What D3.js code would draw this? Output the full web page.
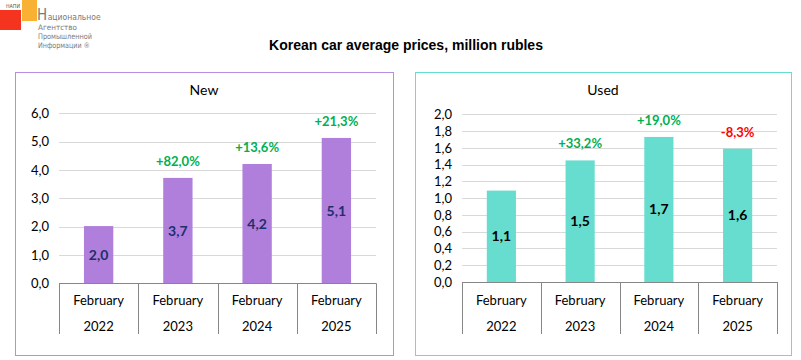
<!DOCTYPE html>
<html><head><meta charset="utf-8">
<script src="https://cdn.jsdelivr.net/npm/d3@7"></script>
<style>body{margin:0;background:#fff}svg{display:block}</style>
</head><body>
<svg id="c" width="801" height="360"></svg>
<script>
const categories = ["February", "February", "February", "February"];
const years = ["2022", "2023", "2024", "2025"];
const newValues = [2.02, 3.72, 4.21, 5.13];
const newLabels = ["2,0", "3,7", "4,2", "5,1"];
const newChange = ["", "+82,0%", "+13,6%", "+21,3%"];
const usedValues = [1.09, 1.45, 1.73, 1.59];
const usedLabels = ["1,1", "1,5", "1,7", "1,6"];
const usedChange = ["", "+33,2%", "+19,0%", "-8,3%"];
const newTicks = [0, 1, 2, 3, 4, 5, 6];
const usedTicks = [0, 0.2, 0.4, 0.6, 0.8, 1.0, 1.2, 1.4, 1.6, 1.8, 2.0];

const svg = d3.select("#c");
const FONT = "Lato, 'Open Sans', sans-serif";
const NARROW = "'Liberation Sans Narrow', 'DejaVu Sans Condensed', 'Liberation Sans', sans-serif";

// logo
const logo = svg.append("g");
logo.append("rect").attr("x",0).attr("y",10).attr("width",21).attr("height",20).attr("fill","#F5341F");
logo.append("rect").attr("x",22).attr("y",0).attr("width",15).attr("height",21).attr("fill","#F8B133");
logo.append("text").attr("x",6).attr("y",8).attr("font-family",NARROW)
  .attr("font-size",5.5).attr("fill","#555").attr("textLength",14).attr("lengthAdjust","spacingAndGlyphs").text("НАПИ");
const first = logo.append("text").attr("x",37).attr("y",20).attr("font-family",NARROW).attr("fill","#7a7a7a");
first.append("tspan").attr("font-size",15).text("Н");
first.append("tspan").attr("font-size",8.5).attr("dx",0.5).text("ациональное");
const logoLines = [["Агентство",39], ["Промышленной",54], ["Информации ®",52]];
logoLines.forEach((t,i)=>{
  logo.append("text").attr("x",38).attr("y", 30.2 + i*8.8)
    .attr("font-family",NARROW).attr("font-size",7.6).attr("fill","#7a7a7a")
    .attr("textLength",t[1]).attr("lengthAdjust","spacingAndGlyphs").text(t[0]);
});

svg.append("text").attr("x",406).attr("y",50).attr("text-anchor","middle")
  .attr("font-family","'Liberation Sans', Arial, sans-serif").attr("font-weight","bold")
  .attr("font-size",14).attr("fill","#000").text("Korean car average prices, million rubles");

function panel(opt){
  const g = svg.append("g");
  g.append("rect").attr("x",opt.box[0]+0.5).attr("y",opt.box[1]+0.5)
    .attr("width",opt.box[2]).attr("height",opt.box[3])
    .attr("fill","#fff").attr("stroke",opt.border).attr("stroke-width",1);
  g.append("text").attr("x",opt.titleX).attr("y",95).attr("text-anchor","middle")
    .attr("font-family",FONT).attr("font-size",14).attr("fill","#000").text(opt.title);

  const x = d3.scaleBand().domain(d3.range(years.length)).range([opt.x0, opt.x1]);
  const y = d3.scaleLinear().domain([0, opt.max]).range([opt.y0, opt.y1]);

  g.append("g").selectAll("line").data(opt.ticks.slice(1)).join("line")
    .attr("x1",opt.x0).attr("x2",opt.x1)
    .attr("y1",d=>Math.round(y(d))+0.5).attr("y2",d=>Math.round(y(d))+0.5)
    .attr("stroke","#D9D9D9").attr("stroke-width",1);

  const ya = g.append("g").attr("transform",`translate(${opt.x0},0)`)
    .call(d3.axisLeft(y).tickValues(opt.ticks).tickSize(0).tickPadding(opt.pad)
      .tickFormat(d=>d3.format(".1f")(d).replace(".",",")));
  ya.select(".domain").remove();
  ya.selectAll("text").attr("font-family",FONT).attr("font-size",13).attr("fill","#000");

  const bw = x.bandwidth()*0.37;
  g.append("g").selectAll("rect").data(opt.values).join("rect")
    .attr("x",(d,i)=>x(i)+x.bandwidth()/2-bw/2).attr("width",bw)
    .attr("y",d=>y(d)).attr("height",d=>y(0)-y(d)).attr("fill",opt.color);

  g.append("g").selectAll("text").data(opt.values).join("text")
    .attr("x",(d,i)=>x(i)+x.bandwidth()/2).attr("y",d=>(y(d)+y(0))/2+5)
    .attr("text-anchor","middle").attr("font-family",FONT).attr("font-weight","bold")
    .attr("font-size",14).attr("fill",opt.labelColor).text((d,i)=>opt.labels[i]);

  g.append("g").selectAll("text").data(opt.values).join("text")
    .attr("x",(d,i)=>x(i)+x.bandwidth()/2).attr("y",d=>y(d)-12)
    .attr("text-anchor","middle").attr("font-family",FONT).attr("font-weight","bold")
    .attr("font-size",13).attr("fill",(d,i)=>opt.changes[i].startsWith("-")?"#FF0000":"#00B050")
    .text((d,i)=>opt.changes[i]);

  const ax = g.append("g").attr("stroke","#868686").attr("stroke-width",1);
  ax.append("line").attr("x1",opt.x0).attr("x2",opt.x1)
    .attr("y1",Math.round(y(0))+0.5).attr("y2",Math.round(y(0))+0.5);
  const seps = d3.range(years.length+1).map(i=> i<years.length ? x(i) : opt.x1);
  ax.selectAll("line.sep").data(seps).join("line").attr("class","sep")
    .attr("x1",d=>Math.round(d)+0.5).attr("x2",d=>Math.round(d)+0.5)
    .attr("y1",y(0)).attr("y2",334);
  g.append("g").selectAll("text").data(categories).join("text")
    .attr("x",(d,i)=>x(i)+x.bandwidth()/2).attr("y",305)
    .attr("text-anchor","middle").attr("font-family",FONT).attr("font-size",13).attr("fill","#000").text(d=>d);
  g.append("g").selectAll("text").data(years).join("text")
    .attr("x",(d,i)=>x(i)+x.bandwidth()/2).attr("y",331)
    .attr("text-anchor","middle").attr("font-family",FONT).attr("font-size",13).attr("fill","#000").text(d=>d);
}

panel({box:[15,72,378,283], border:"#B98EE0", title:"New", titleX:204,
  x0:59, x1:376, y0:283.3, y1:113.3, max:6, ticks:newTicks, pad:10,
  values:newValues, labels:newLabels, changes:newChange, color:"#B07EDB", labelColor:"#1F2F6B"});
panel({box:[415,72,376,283], border:"#66DDCF", title:"Used", titleX:603,
  x0:462, x1:777, y0:282, y1:114.3, max:2, ticks:usedTicks, pad:10,
  values:usedValues, labels:usedLabels, changes:usedChange, color:"#66DDCF", labelColor:"#000"});
</script>
</body></html>
